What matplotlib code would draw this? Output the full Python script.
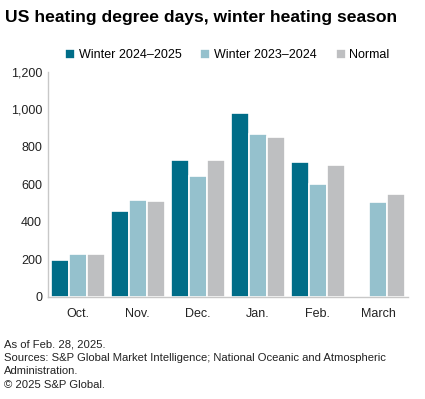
import matplotlib
matplotlib.use("Agg")
import matplotlib.pyplot as plt
import numpy as np

months = ["Oct.", "Nov.", "Dec.", "Jan.", "Feb.", "March"]
winter_2425 = [196, 459, 728, 978, 720, np.nan]
winter_2324 = [226, 519, 646, 868, 601, 507]
normal = [230, 510, 730, 855, 704, 550]

series = [
    ("Winter 2024\u20132025", winter_2425, "#006d88"),
    ("Winter 2023\u20132024", winter_2324, "#95c1cd"),
    ("Normal", normal, "#bebfc1"),
]

plt.rcParams["font.family"] = ["Liberation Sans", "DejaVu Sans"]

fig = plt.figure(figsize=(4.25, 3.99), dpi=100)
ax = fig.add_axes([0.112, 0.256, 0.848, 0.564])

x = np.arange(len(months))
w = 0.3
for i, (name, vals, col) in enumerate(series):
    ax.bar(x + (i - 1) * w, vals, w, color=col, edgecolor="white",
           linewidth=1.2, label=name, zorder=2)

ax.set_xlim(-0.5, len(months) - 0.5)
ax.set_ylim(0, 1200)
ax.set_yticks(range(0, 1201, 200))
ax.set_yticklabels([f"{v:,}" for v in range(0, 1201, 200)])
ax.set_xticks(x)
ax.set_xticklabels(months)
ax.tick_params(length=0, labelsize=9, colors="#222222")
ax.tick_params(axis="y", pad=4)
ax.tick_params(axis="x", pad=8)
for s in ["top", "right"]:
    ax.spines[s].set_visible(False)
for s in ["left", "bottom"]:
    ax.spines[s].set_color("#c8c8c8")
    ax.spines[s].set_linewidth(1.0)

fig.text(0.012, 0.955, "US heating degree days, winter heating season",
         fontsize=12.6, fontweight="bold", va="center", ha="left")

fig.legend(loc="center", bbox_to_anchor=(0.535, 0.862), ncol=3, frameon=False,
           fontsize=9, handlelength=0.8, handleheight=0.8, handletextpad=0.3,
           columnspacing=1.5)

notes = ("As of Feb. 28, 2025.\n"
         "Sources: S&P Global Market Intelligence; National Oceanic and Atmospheric\n"
         "Administration.\n"
         "\u00a9 2025 S&P Global.")
fig.text(0.01, 0.15, notes, fontsize=8.1, va="top", ha="left",
         linespacing=1.45, color="#222222")

fig.savefig("out.png", dpi=100)
